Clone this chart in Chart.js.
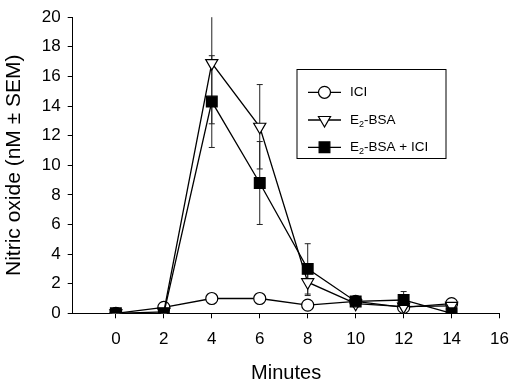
<!DOCTYPE html>
<html>
<head>
<meta charset="utf-8">
<script src="https://cdn.jsdelivr.net/npm/chart.js@4.4.1/dist/chart.umd.min.js"></script>
<style>
  html, body { margin: 0; padding: 0; background: #fff; }
  #wrap { width: 520px; height: 385px; }
</style>
</head>
<body>
<div id="wrap"><canvas id="c" width="520" height="385"></canvas></div>
<script>
const MINUTES = [0, 2, 4, 6, 8, 10, 12, 14];
const X_TICKS = [0, 2, 4, 6, 8, 10, 12, 14, 16];
const Y_TICKS = [0, 2, 4, 6, 8, 10, 12, 14, 16, 18, 20];
const SERIES_LABELS = ['ICI', 'E₂-BSA', 'E₂-BSA + ICI'];
const ICI = [0, 0.4, 1.0, 1.0, 0.55, 0.8, 0.4, 0.65];
const ICI_SEM = [0, 0.1, 0.2, 0.2, 0.2, 0.2, 0.2, 0.2];
const E2BSA = [0, 0.1, 16.9, 12.6, 2.1, 0.65, 0.45, 0.5];
const E2BSA_SEM = [0, 0.1, 4.1, 2.85, 0.9, 0.2, 0.3, 0.2];
const E2BSA_ICI = [0, 0, 14.3, 8.8, 3.0, 0.8, 0.9, 0];
const E2BSA_ICI_SEM = [0, 0, 3.1, 2.8, 1.7, 0.2, 0.57, 0];

const FONT = 'Liberation Sans, Arial, Helvetica, sans-serif';
const toPts = (ys) => MINUTES.map((x, i) => ({ x: x, y: ys[i] }));

const errorBars = {
  id: 'errorBars',
  beforeDatasetsDraw(chart) {
    const ctx = chart.ctx, xs = chart.scales.x, ys = chart.scales.y;
    ctx.save();
    ctx.strokeStyle = '#222';
    ctx.lineWidth = 1;
    chart.data.datasets.forEach(ds => {
      ds.sem.forEach((s, i) => {
        if (!s) return;
        const v = ds.data[i].y;
        const px = xs.getPixelForValue(ds.data[i].x);
        const hiV = v + s, loV = Math.max(v - s, 0);
        const yHi = ys.getPixelForValue(Math.min(hiV, ys.max));
        const yLo = ys.getPixelForValue(loV);
        ctx.beginPath();
        ctx.moveTo(px, yHi); ctx.lineTo(px, yLo);
        if (hiV <= ys.max) { ctx.moveTo(px - 3, yHi); ctx.lineTo(px + 3, yHi); }
        ctx.moveTo(px - 3, yLo); ctx.lineTo(px + 3, yLo);
        ctx.stroke();
      });
    });
    ctx.restore();
  }
};

function drawLabel(ctx, text, x, y, size) {
  const parts = text.split('₂');
  let cx = x;
  parts.forEach((p, i) => {
    ctx.font = size + 'px ' + FONT;
    ctx.fillText(p, cx, y);
    cx += ctx.measureText(p).width;
    if (i < parts.length - 1) {
      ctx.font = Math.round(size * 0.65) + 'px ' + FONT;
      ctx.fillText('2', cx, y + size * 0.3);
      cx += ctx.measureText('2').width;
    }
  });
}

const boxLegend = {
  id: 'boxLegend',
  afterDraw(chart) {
    const ctx = chart.ctx;
    const bx = 297, by = 69.5, bw = 149, bh = 89;
    ctx.save();
    ctx.strokeStyle = '#000';
    ctx.lineWidth = 1;
    ctx.strokeRect(bx, by, bw, bh);
    const rowY = [92.3, 120, 147.3];
    chart.data.datasets.forEach((ds, i) => {
      const y = rowY[i];
      ctx.strokeStyle = '#000';
      ctx.lineWidth = 1.3;
      ctx.beginPath(); ctx.moveTo(308, y); ctx.lineTo(341, y); ctx.stroke();
      ctx.fillStyle = ds.pointBackgroundColor;
      ctx.strokeStyle = '#000';
      ctx.lineWidth = ds.pointBorderWidth;
      Chart.helpers.drawPoint(ctx, {
        pointStyle: ds.pointStyle, radius: ds.pointRadius,
        rotation: ds.pointRotation || 0, borderWidth: ds.pointBorderWidth
      }, 324.5, y);
      ctx.fillStyle = '#000';
      ctx.textBaseline = 'middle';
      ctx.textAlign = 'left';
      drawLabel(ctx, ds.label, 350, y, 13.5);
    });
    ctx.restore();
  }
};

const common = {
  borderColor: '#000', borderWidth: 1.3, pointBorderColor: '#000',
  pointBorderWidth: 1.2, tension: 0, showLine: true
};

new Chart(document.getElementById('c'), {
  type: 'scatter',
  data: {
    datasets: [
      Object.assign({}, common, {
        label: SERIES_LABELS[0], data: toPts(ICI), sem: ICI_SEM,
        pointStyle: 'circle', pointRadius: 6, pointBackgroundColor: '#fff', order: 2
      }),
      Object.assign({}, common, {
        label: SERIES_LABELS[1], data: toPts(E2BSA), sem: E2BSA_SEM,
        pointStyle: 'triangle', pointRadius: 7, pointRotation: 180,
        pointBackgroundColor: '#fff', order: 1
      }),
      Object.assign({}, common, {
        label: SERIES_LABELS[2], data: toPts(E2BSA_ICI), sem: E2BSA_ICI_SEM,
        pointStyle: 'rect', pointRadius: 7.6, pointBackgroundColor: '#000', order: 0
      })
    ]
  },
  options: {
    responsive: false,
    animation: false,
    devicePixelRatio: 1,
    layout: { padding: { left: 0, right: 11.3, top: 9, bottom: 0 } },
    plugins: { legend: { display: false }, tooltip: { enabled: false } },
    scales: {
      x: {
        type: 'linear', min: -1.8, max: 16,
        afterBuildTicks(s) { s.ticks = X_TICKS.map(v => ({ value: v })); },
        afterFit(s) { s.height = 71.7; },
        grid: { display: true, drawOnChartArea: false, drawTicks: true, tickLength: 5, color: '#000', tickWidth: 1 },
        border: { display: true, color: '#000', width: 1 },
        ticks: { color: '#000', font: { family: FONT, size: 17 }, padding: 11, maxRotation: 0 },
        title: { display: true, text: 'Minutes', color: '#000', font: { family: FONT, size: 20 }, padding: { top: 0, bottom: 0 } }
      },
      y: {
        type: 'linear', min: 0, max: 20,
        afterBuildTicks(s) { s.ticks = Y_TICKS.map(v => ({ value: v })); },
        afterFit(s) { s.width = 72.7; },
        grid: { display: true, drawOnChartArea: false, drawTicks: true, tickLength: 5, color: '#000', tickWidth: 1 },
        border: { display: true, color: '#000', width: 1 },
        ticks: { color: '#000', font: { family: FONT, size: 17 }, padding: 7 },
        title: { display: true, text: 'Nitric oxide (nM ± SEM)', color: '#000', font: { family: FONT, size: 21 }, padding: { top: 2, bottom: 0 } }
      }
    }
  },
  plugins: [errorBars, boxLegend]
});
</script>
</body>
</html>
